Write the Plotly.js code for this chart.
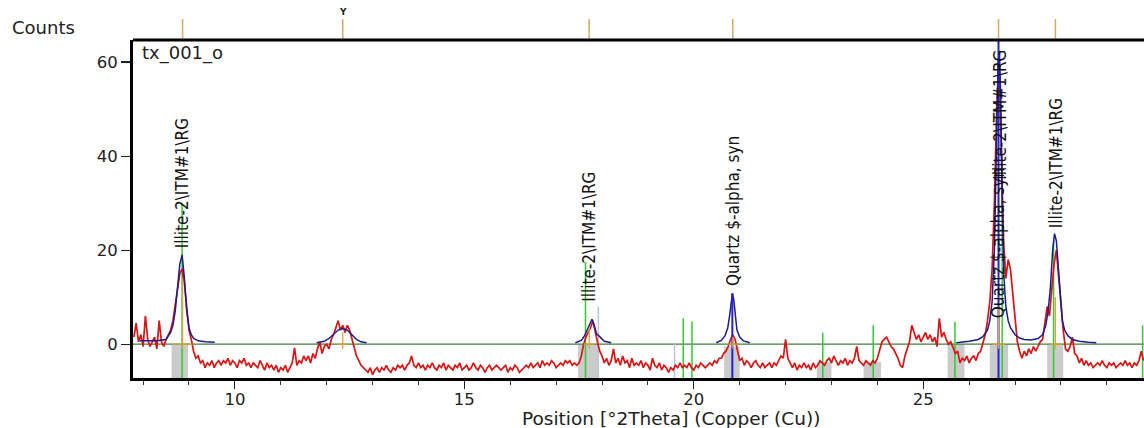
<!DOCTYPE html>
<html>
<head>
<meta charset="utf-8">
<script src="https://cdn.plot.ly/plotly-3.0.1.min.js"></script>
<style>
  html, body { margin: 0; padding: 0; background: #fff; }
  #chart { width: 1144px; height: 428px; }
</style>
</head>
<body>
<div id="chart"></div>
<script>
// Scan tx_001_o, Cu radiation, background-subtracted counts
const scanStart = 7.8;
const scanStep = 0.05;
const observedCounts = [
  1.5, 4.5, 0.5, 2, -0.5, 6, 1, -0.5, 0.5, 1.5, -1, 5, 0.5, -0.5, 1, 2, 3, 5, 8, 12,
  15, 16, 13, 8, 3, 1, -1.5, -3, -2.5, -4, -3.5, -5, -4, -4.5, -3.5, -5, -4, -3.5, -4.5, -3.5,
  -4, -3, -4.5, -3.5, -4, -5, -3.5, -4, -3, -4.5, -4, -5, -4, -4.5, -5, -3.5, -4.5, -5.5, -4, -5,
  -4.5, -5.5, -4.5, -6, -5, -5.5, -4.5, -6, -5, -4, -0.8, -4.5, -3.5, -4, -2.5, -3.5, -2.5, -4, -2, -3,
  -1, 0.5, -2, -0.5, 0, -1, 1, 2, 3.5, 5, 3, 4, 2.5, 4, 3, 1, -1, -2.5, -3.5, -4.5,
  -5, -5.5, -6, -5, -6.5, -5.5, -5, -6, -5, -5.5, -4.5, -5.5, -6, -5, -5.5, -4.5, -5, -4.5, -5.5, -4.5,
  -4, -2.5, -4.5, -5, -4, -5, -4.5, -5.5, -4.5, -5, -4, -5, -5.5, -4.5, -5, -4, -5.5, -4.5, -5, -5.5,
  -4.5, -5, -4, -5.5, -5, -4.5, -5.5, -5, -4, -5, -5.5, -4.5, -5, -6, -5, -4.5, -5.5, -5, -4.5, -5,
  -5.5, -5, -4.5, -6, -5, -5.5, -4.5, -5, -6, -5.5, -5, -4.5, -5, -4, -5, -4.5, -4, -5, -3.5, -4.5,
  -4, -4.5, -3.5, -4, -5, -4.5, -4, -4.5, -3.5, -4, -3.5, -4.5, -4, -4.5, -4, -2.5, 0, 1.5, 2.5, 3.5,
  5, 2.5, 0.5, -1.5, -2.5, -4, -3, -4.5, -3.5, -1, -4, -3, -4.5, -2.5, -4, -3.5, -5, -3, -4.5, -4,
  -4.5, -3.5, -5, -4, -4.5, -5.5, -3, -4.5, -5, -4, -5.5, -4.5, -5, -6, -5, -5.5, -4.5, -5, -4, -5,
  -4.5, -5, -4, -5, -5.5, -4.5, -5, -4, -4.5, -5, -4.5, -4, -4.5, -3.5, -4, -3, -3, -2, -1.5, -0.5,
  1, 2, 1, -1.5, -3.5, -3, -4.5, -3.5, -4, -5, -4, -3.5, -4.5, -5, -4, -5, -4.5, -4, -5, -4,
  -4.5, -3.5, -2.5, -3, 1, -3, -4, -5, -4, -5.5, -4.5, -5, -4, -5, -4.5, -5.5, -4, -5, -4.5, -3.5,
  -4, -4.5, -3.5, -3, -4, -2.5, -3.5, -4.5, -3.5, -4, -3, -4.5, -3.5, -4, -3, -0.5, -3.5, -4, -4.5, -3.5,
  -4, -4.5, -3.5, -4, -3, -1.5, 0.5, 1, 1.5, 0.5, -0.5, -1, -2, -3, -4.5, -5, -2.5, -1, 0.5, 4,
  2.5, 1, 2, 0.5, 1.5, 2.5, 1, 2, 0.5, 1.5, -0.5, 5.5, 1.5, 2.5, 1, 0, 0.5, -1, -2, -1.5,
  -4, -3, -3.5, -2.5, -4, -3, -2.5, -3.5, -2, -1.5, 0, 2, 5, 9, 16, 30, 50, 60, 42, 22,
  14, 18, 16, 11, 6, 0.5, -1.5, -3, -1.5, -2.5, -1, -2, -0.5, -1.5, -0.5, 0.5, 1, 4, 8, 6,
  11, 17, 20, 14, 8, 3, -1, -1.5, -0.5, 1.5, -2, -2.5, -4, -3, -4.5, -3.5, -4.5, -4, -5, -4.5,
  -4, -4.5, -3.5, -4.5, -5, -4, -4.5, -4, -5, -4.5, -4, -4.5, -3.5, -4.5, -4, -5, -4, -4.5, -3.5, -1.5, -3.5
];
const scanPos = observedCounts.map((_, i) => +(scanStart + i * scanStep).toFixed(2));

// Calculated profile, fitted segments
const fitSegments = [
  { pos: [7.93, 8.3, 8.5, 8.6, 8.65, 8.7, 8.75, 8.8, 8.85, 8.9, 8.95, 9.0, 9.05, 9.1, 9.2, 9.35, 9.56],
    counts: [0.7, 0.7, 1.0, 2.5, 4, 7, 12, 17, 19, 14, 7, 3.5, 2, 1.2, 0.7, 0.5, 0.4] },
  { pos: [11.78, 11.95, 12.05, 12.15, 12.25, 12.35, 12.45, 12.55, 12.65, 12.75, 12.87],
    counts: [0.3, 0.6, 1.2, 2.2, 3.0, 3.3, 3.0, 2, 1, 0.5, 0.3] },
  { pos: [17.42, 17.55, 17.62, 17.68, 17.73, 17.78, 17.83, 17.88, 17.95, 18.05, 18.2],
    counts: [0.3, 0.8, 1.8, 3.2, 4.5, 5.3, 4.0, 2.2, 1.6, 0.6, 0.3] },
  { pos: [20.49, 20.6, 20.68, 20.74, 20.78, 20.81, 20.84, 20.87, 20.9, 20.94, 21.0, 21.08, 21.22],
    counts: [0.3, 0.8, 1.8, 3.5, 6, 9, 10.8, 9.5, 6, 3, 1.5, 0.7, 0.3] },
  { pos: [25.72, 26.0, 26.2, 26.3, 26.4, 26.45, 26.5, 26.55, 26.6, 26.63, 26.66, 26.69, 26.72, 26.76, 26.8,
          26.85, 26.9, 27.0, 27.1, 27.2, 27.35, 27.5, 27.6, 27.67, 27.72, 27.77, 27.82, 27.86, 27.9, 27.94,
          27.98, 28.03, 28.08, 28.15, 28.25, 28.4, 28.6, 28.77],
    counts: [0.3, 0.6, 1.0, 1.6, 3, 5, 9, 20, 45, 60, 62, 52, 30, 14, 8,
             5, 3.5, 2, 1.3, 1.0, 0.9, 1.2, 2, 4, 7, 12, 20, 23.5, 22, 17,
             10, 5, 3, 1.8, 1.0, 0.6, 0.4, 0.3] }
];

// Reference patterns (stick positions and heights)
const illitePos = [8.85, 17.64, 19.77, 19.96, 22.81, 23.91, 25.69, 26.72, 27.84, 29.78];
const illiteHeight = [30, 17.5, 5.5, 4.8, 2.4, 4.0, 4.7, 40, 22, 4];
const quartzPos = [20.84, 26.64];
const quartzHeight = [10.8, 64.7];
const minorPos = [17.92, 19.58];
const minorHeight = [8, 0.3];

// Peak search result: position, half width, marker height
const peakPos = [8.86, 12.35, 17.72, 20.85, 26.64, 27.88];
const peakHalfWidth = [0.22, 0.12, 0.12, 0.1, 0.15, 0.14];
const peakMarkHeight = [14, 2.5, 3.5, 1.5, 8, 10];

// Peak regions shaded under the baseline
const regionStart = [8.62, 17.48, 20.66, 22.68, 23.70, 25.53, 26.45, 27.70];
const regionEnd   = [8.98, 17.92, 21.00, 23.00, 24.08, 25.90, 26.85, 28.05];
const regionTop   = [0, 0, -0.5, -3.8, -3.8, 0, 0, 0];

// Phase labels
const labelPos = [8.85, 17.73, 20.84, 26.62, 26.67, 27.9];
const labelBase = [20, 8.5, 12, 5, 34.5, 24.3];
const labelText = ['Illite-2\\ITM#1\\RG', 'Illite-2\\ITM#1\\RG', 'Quartz $-alpha, syn',
                   'Quartz $-alpha, syn', 'Illite-2\\ITM#1\\RG', 'Illite-2\\ITM#1\\RG'];

const xRange = [7.78, 29.81];
const yRange = [-7.2, 64.7];

function sticks(pos, height, base) {
  const x = [], y = [];
  pos.forEach((p, i) => { x.push(p, p, null); y.push(base, height[i], null); });
  return { x, y };
}

const traces = [];

// shaded regions
(function () {
  const x = [], y = [];
  regionStart.forEach((s, i) => {
    x.push(s, regionEnd[i], regionEnd[i], s, s, null);
    y.push(yRange[0], yRange[0], regionTop[i], regionTop[i], yRange[0], null);
  });
  traces.push({ x, y, mode: 'lines', fill: 'toself', fillcolor: '#cbcbcb',
    line: { width: 0, color: '#cbcbcb' }, hoverinfo: 'skip' });
})();

// baseline
traces.push({ x: xRange, y: [0, 0], mode: 'lines', line: { color: '#3f7f3a', width: 1.3 }, hoverinfo: 'skip' });

// minor sticks
(function () {
  const s = sticks(minorPos, minorHeight, yRange[0]);
  traces.push({ x: s.x, y: s.y, mode: 'lines', line: { color: '#b8c4d8', width: 1.5 }, hoverinfo: 'skip' });
})();

// illite sticks
(function () {
  const s = sticks(illitePos, illiteHeight, yRange[0]);
  traces.push({ x: s.x, y: s.y, mode: 'lines', line: { color: '#2ecc2e', width: 1.5 }, hoverinfo: 'skip' });
})();

// observed scan
traces.push({ x: scanPos, y: observedCounts, mode: 'lines',
  line: { color: '#d81414', width: 1.7 }, hoverinfo: 'skip' });

// calculated profile
fitSegments.forEach(seg => {
  traces.push({ x: seg.pos, y: seg.counts, mode: 'lines',
    line: { color: '#1c1c8f', width: 1.5 }, hoverinfo: 'skip' });
});

// quartz sticks
(function () {
  const s = sticks(quartzPos, quartzHeight, yRange[0]);
  traces.push({ x: s.x, y: s.y, mode: 'lines', line: { color: '#2323c8', width: 2 }, hoverinfo: 'skip' });
})();

// peak markers inside the plot
(function () {
  const x = [], y = [];
  peakPos.forEach((p, i) => {
    x.push(p - peakHalfWidth[i], p + peakHalfWidth[i], null, p, p, null);
    y.push(0, 0, null, -1, peakMarkHeight[i], null);
  });
  traces.push({ x, y, mode: 'lines', line: { color: '#e0a040', width: 1.3 }, hoverinfo: 'skip' });
})();

const shapes = peakPos.map(p => ({
  type: 'line', xref: 'x', yref: 'paper', x0: p, x1: p, y0: 1, y1: 1.062,
  line: { color: '#d4aa6a', width: 1.5 }
}));
// frame top edge
shapes.push({ type: 'line', xref: 'paper', yref: 'paper', x0: 0, x1: 1, y0: 1, y1: 1,
  line: { color: '#000', width: 3 } });

const font = 'DejaVu Sans, Verdana, sans-serif';
const narrow = 'Liberation Sans Narrow, DejaVu Sans Condensed, Arial Narrow, Liberation Sans, sans-serif';
const annotations = labelPos.map((p, i) => ({
  x: p, y: labelBase[i], xref: 'x', yref: 'y', text: labelText[i], textangle: -90,
  showarrow: false, xanchor: 'center', yanchor: 'bottom',
  font: { family: narrow, size: 17, color: '#111' }
}));
annotations.push(
  { xref: 'paper', yref: 'paper', x: -0.1217, y: 1.036, xanchor: 'left', yanchor: 'middle',
    text: 'Counts', showarrow: false, font: { family: font, size: 18, color: '#222' } },
  { xref: 'paper', yref: 'paper', x: 0.007, y: 0.962, xanchor: 'left', yanchor: 'middle',
    text: 'tx_001_o', showarrow: false, font: { family: font, size: 18, color: '#222' } },
  { xref: 'paper', yref: 'paper', x: 0.532, y: -0.12, xanchor: 'center', yanchor: 'middle',
    text: 'Position [°2Theta] (Copper (Cu))', showarrow: false, font: { family: font, size: 18.5, color: '#222' } },
  { xref: 'x', yref: 'paper', x: 12.35, y: 1.083, xanchor: 'center', yanchor: 'middle',
    text: '<b>Y</b>', showarrow: false, font: { family: font, size: 9, color: '#222' } }
);

const layout = {
  width: 1144, height: 428,
  margin: { l: 133, r: 0, t: 40, b: 50 },
  paper_bgcolor: '#fff', plot_bgcolor: '#fff',
  showlegend: false,
  font: { family: font, size: 17, color: '#222' },
  xaxis: {
    range: xRange, showgrid: false, zeroline: false,
    showline: true, linecolor: '#000', linewidth: 3,
    ticks: 'outside', ticklen: 8, tickwidth: 1.2, tickcolor: '#222',
    tick0: 0, dtick: 5, ticklabelstandoff: -4,
    tickfont: { family: font, size: 16.5, color: '#222' },
    minor: { dtick: 1, ticks: 'outside', ticklen: 4, tickwidth: 1, tickcolor: '#333', showgrid: false }
  },
  yaxis: {
    range: yRange, showgrid: false, zeroline: false,
    showline: true, linecolor: '#000', linewidth: 3,
    ticks: 'outside', ticklen: 9, tickwidth: 1.2, tickcolor: '#222',
    tickvals: [0, 20, 40, 60], tickfont: { family: font, size: 16.5, color: '#222' }
  },
  shapes, annotations
};

Plotly.newPlot('chart', traces, layout, { staticPlot: true, displayModeBar: false });
</script>
</body>
</html>
